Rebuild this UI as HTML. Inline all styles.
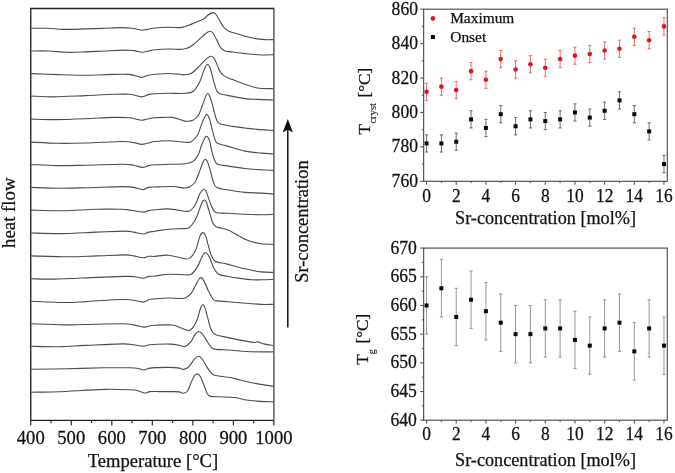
<!DOCTYPE html>
<html><head><meta charset="utf-8"><style>
html,body{margin:0;padding:0;background:#fff;}
body{width:675px;height:473px;overflow:hidden;}
svg{display:block;will-change:transform;}
text{font-family:"Liberation Serif",serif;fill:#111;stroke:#111;stroke-width:0.25px;}
</style></head><body>
<svg width="675" height="473" viewBox="0 0 675 473">
<rect width="675" height="473" fill="#fff"/>
<!-- left panel -->
<g fill="none" stroke="#4c4c4c" stroke-width="1.1" stroke-linejoin="round">
<path d="M31.35,28.30 C34.21,28.30 43.17,28.12 48.50,28.30 C53.83,28.48 57.12,29.30 63.30,29.40 C69.48,29.50 78.82,29.08 85.60,28.90 C92.38,28.72 98.15,28.52 104.00,28.30 C109.85,28.08 116.05,27.60 120.70,27.60 C125.35,27.60 128.42,27.87 131.90,28.30 C135.38,28.73 139.05,30.02 141.60,30.20 C144.15,30.38 144.97,29.77 147.20,29.40 C149.43,29.03 151.45,28.37 155.00,28.00 C158.55,27.63 164.40,27.27 168.50,27.20 C172.60,27.13 176.85,27.70 179.60,27.60 C182.35,27.50 182.33,27.47 185.00,26.60 C187.67,25.73 192.43,23.72 195.60,22.40 C198.77,21.08 201.90,19.93 204.00,18.70 C206.10,17.47 206.75,16.02 208.20,15.00 C209.65,13.98 211.47,12.77 212.70,12.60 C213.93,12.43 214.42,12.63 215.60,14.00 C216.78,15.37 218.38,18.52 219.80,20.80 C221.22,23.08 222.50,25.93 224.10,27.70 C225.70,29.47 227.12,30.35 229.40,31.40 C231.68,32.45 235.20,33.20 237.80,34.00 C240.40,34.80 242.35,35.48 245.00,36.20 C247.65,36.92 250.40,37.73 253.70,38.30 C257.00,38.87 261.53,39.38 264.80,39.60 C268.07,39.82 271.88,39.60 273.30,39.60"/><path d="M31.35,51.00 C34.21,51.00 42.56,50.78 48.50,51.00 C54.44,51.22 60.82,52.15 67.00,52.30 C73.18,52.45 79.43,52.12 85.60,51.90 C91.77,51.68 97.53,51.30 104.00,51.00 C110.47,50.70 119.45,50.17 124.40,50.10 C129.35,50.03 130.68,50.23 133.70,50.60 C136.72,50.97 140.03,52.23 142.50,52.30 C144.97,52.37 146.42,51.42 148.50,51.00 C150.58,50.58 151.67,50.13 155.00,49.80 C158.33,49.47 164.33,49.07 168.50,49.00 C172.67,48.93 177.25,49.43 180.00,49.40 C182.75,49.37 183.28,49.25 185.00,48.80 C186.72,48.35 188.18,48.02 190.30,46.70 C192.42,45.38 195.23,43.02 197.70,40.90 C200.17,38.78 203.08,35.62 205.10,34.00 C207.12,32.38 208.48,31.37 209.80,31.20 C211.12,31.03 211.85,31.57 213.00,33.00 C214.15,34.43 215.38,37.33 216.70,39.80 C218.02,42.27 219.50,45.95 220.90,47.80 C222.30,49.65 223.17,50.20 225.10,50.90 C227.03,51.60 229.18,51.55 232.50,52.00 C235.82,52.45 240.25,53.10 245.00,53.60 C249.75,54.10 256.28,54.83 261.00,55.00 C265.72,55.17 271.25,54.67 273.30,54.60"/><path d="M31.35,73.60 C35.76,73.77 48.76,74.33 57.80,74.60 C66.84,74.87 76.35,75.23 85.60,75.20 C94.85,75.17 106.22,74.53 113.30,74.40 C120.38,74.27 124.38,74.17 128.10,74.40 C131.82,74.63 133.35,75.30 135.60,75.80 C137.85,76.30 139.45,77.48 141.60,77.40 C143.75,77.32 146.27,75.82 148.50,75.30 C150.73,74.78 151.67,74.60 155.00,74.30 C158.33,74.00 164.33,73.50 168.50,73.50 C172.67,73.50 177.25,74.08 180.00,74.30 C182.75,74.52 183.12,74.98 185.00,74.80 C186.88,74.62 189.18,74.33 191.30,73.20 C193.42,72.07 195.58,70.02 197.70,68.00 C199.82,65.98 201.85,63.05 204.00,61.10 C206.15,59.15 208.93,56.75 210.60,56.30 C212.27,55.85 212.98,57.17 214.00,58.40 C215.02,59.63 215.73,61.58 216.70,63.70 C217.67,65.82 218.57,69.07 219.80,71.10 C221.03,73.13 221.98,74.48 224.10,75.90 C226.22,77.32 229.02,78.20 232.50,79.60 C235.98,81.00 240.85,82.90 245.00,84.30 C249.15,85.70 252.68,87.27 257.40,88.00 C262.12,88.73 270.65,88.58 273.30,88.70"/><path d="M31.35,96.10 C35.14,96.23 45.06,96.98 54.10,96.90 C63.14,96.82 75.73,96.03 85.60,95.60 C95.47,95.17 105.90,94.52 113.30,94.30 C120.70,94.08 125.28,93.87 130.00,94.30 C134.72,94.73 138.52,96.85 141.60,96.90 C144.68,96.95 146.27,95.13 148.50,94.60 C150.73,94.07 151.67,93.92 155.00,93.70 C158.33,93.48 163.50,93.37 168.50,93.30 C173.50,93.23 180.85,93.65 185.00,93.30 C189.15,92.95 190.93,93.13 193.40,91.20 C195.87,89.27 198.03,85.22 199.80,81.70 C201.57,78.18 202.73,73.00 204.00,70.10 C205.27,67.20 206.35,64.57 207.40,64.30 C208.45,64.03 209.28,65.78 210.30,68.50 C211.32,71.22 212.43,76.90 213.50,80.60 C214.57,84.30 215.65,88.50 216.70,90.70 C217.75,92.90 218.05,93.02 219.80,93.80 C221.55,94.58 223.00,94.60 227.20,95.40 C231.40,96.20 239.97,97.93 245.00,98.60 C250.03,99.27 252.68,99.17 257.40,99.40 C262.12,99.63 270.65,99.90 273.30,100.00"/><path d="M31.35,119.10 C35.14,119.18 45.06,119.67 54.10,119.60 C63.14,119.53 75.73,119.07 85.60,118.70 C95.47,118.33 105.90,117.55 113.30,117.40 C120.70,117.25 125.28,117.33 130.00,117.80 C134.72,118.27 138.52,120.05 141.60,120.20 C144.68,120.35 146.27,119.10 148.50,118.70 C150.73,118.30 151.05,118.02 155.00,117.80 C158.95,117.58 167.20,116.85 172.20,117.40 C177.20,117.95 181.47,120.65 185.00,121.10 C188.53,121.55 191.12,121.15 193.40,120.10 C195.68,119.05 197.20,117.27 198.70,114.80 C200.20,112.33 200.93,108.83 202.40,105.30 C203.87,101.77 205.95,94.13 207.50,93.60 C209.05,93.07 210.62,99.20 211.70,102.10 C212.78,105.00 213.22,108.13 214.00,111.00 C214.78,113.87 215.43,117.17 216.40,119.30 C217.37,121.43 217.12,122.62 219.80,123.80 C222.48,124.98 228.30,125.70 232.50,126.40 C236.70,127.10 240.85,127.50 245.00,128.00 C249.15,128.50 252.68,129.00 257.40,129.40 C262.12,129.80 270.65,130.23 273.30,130.40"/><path d="M31.35,142.10 C35.76,142.30 48.76,143.15 57.80,143.30 C66.84,143.45 74.80,143.30 85.60,143.00 C96.40,142.70 114.58,141.57 122.60,141.50 C130.62,141.43 130.53,142.12 133.70,142.60 C136.87,143.08 139.13,144.33 141.60,144.40 C144.07,144.47 146.27,143.48 148.50,143.00 C150.73,142.52 151.67,141.88 155.00,141.50 C158.33,141.12 163.50,140.58 168.50,140.70 C173.50,140.82 181.20,142.03 185.00,142.20 C188.80,142.37 189.18,142.93 191.30,141.70 C193.42,140.47 195.93,137.88 197.70,134.80 C199.47,131.72 200.48,126.57 201.90,123.20 C203.32,119.83 204.97,115.38 206.20,114.60 C207.43,113.82 208.25,115.83 209.30,118.50 C210.35,121.17 211.45,126.82 212.50,130.60 C213.55,134.38 214.55,139.00 215.60,141.20 C216.65,143.40 216.87,142.98 218.80,143.80 C220.73,144.62 222.83,144.88 227.20,146.10 C231.57,147.32 239.37,149.93 245.00,151.10 C250.63,152.27 256.28,152.62 261.00,153.10 C265.72,153.58 271.25,153.85 273.30,154.00"/><path d="M31.35,164.60 C35.76,164.77 48.76,165.50 57.80,165.60 C66.84,165.70 74.80,165.42 85.60,165.20 C96.40,164.98 114.58,164.30 122.60,164.30 C130.62,164.30 130.43,164.68 133.70,165.20 C136.97,165.72 139.73,167.33 142.20,167.40 C144.67,167.47 146.37,166.03 148.50,165.60 C150.63,165.17 151.67,165.02 155.00,164.80 C158.33,164.58 163.50,164.47 168.50,164.30 C173.50,164.13 180.85,164.33 185.00,163.80 C189.15,163.27 191.12,162.78 193.40,161.10 C195.68,159.42 197.28,156.52 198.70,153.70 C200.12,150.88 200.68,147.07 201.90,144.20 C203.12,141.33 204.77,137.20 206.00,136.50 C207.23,135.80 208.32,137.48 209.30,140.00 C210.28,142.52 211.02,148.25 211.90,151.60 C212.78,154.95 213.63,157.98 214.60,160.10 C215.57,162.22 215.60,163.33 217.70,164.30 C219.80,165.27 222.65,165.20 227.20,165.90 C231.75,166.60 239.37,167.85 245.00,168.50 C250.63,169.15 256.28,169.48 261.00,169.80 C265.72,170.12 271.25,170.30 273.30,170.40"/><path d="M31.35,187.40 C35.76,187.53 48.76,188.15 57.80,188.20 C66.84,188.25 74.80,187.97 85.60,187.70 C96.40,187.43 114.58,186.65 122.60,186.60 C130.62,186.55 130.38,186.90 133.70,187.40 C137.02,187.90 140.03,189.60 142.50,189.60 C144.97,189.60 146.42,187.83 148.50,187.40 C150.58,186.97 151.05,187.15 155.00,187.00 C158.95,186.85 167.20,186.33 172.20,186.50 C177.20,186.67 181.98,188.00 185.00,188.00 C188.02,188.00 188.53,187.63 190.30,186.50 C192.07,185.37 194.02,183.85 195.60,181.20 C197.18,178.55 198.57,173.77 199.80,170.60 C201.03,167.43 202.08,164.08 203.00,162.20 C203.92,160.32 204.52,159.30 205.30,159.30 C206.08,159.30 206.87,160.32 207.70,162.20 C208.53,164.08 209.33,167.27 210.30,170.60 C211.27,173.93 212.43,179.37 213.50,182.20 C214.57,185.03 214.42,186.33 216.70,187.60 C218.98,188.87 222.48,189.00 227.20,189.80 C231.92,190.60 239.37,191.85 245.00,192.40 C250.63,192.95 256.28,192.82 261.00,193.10 C265.72,193.38 271.25,193.93 273.30,194.10"/><path d="M31.35,210.10 C36.51,210.22 51.42,210.93 62.30,210.80 C73.17,210.67 86.77,209.55 96.60,209.30 C106.43,209.05 115.60,209.15 121.30,209.30 C127.00,209.45 127.18,209.73 130.80,210.20 C134.42,210.67 139.98,212.03 143.00,212.10 C146.02,212.17 146.90,210.98 148.90,210.60 C150.90,210.22 151.73,210.08 155.00,209.80 C158.27,209.52 163.50,208.67 168.50,208.90 C173.50,209.13 181.37,210.92 185.00,211.20 C188.63,211.48 188.53,211.75 190.30,210.60 C192.07,209.45 194.02,207.12 195.60,204.30 C197.18,201.48 198.48,196.20 199.80,193.70 C201.12,191.20 202.45,189.65 203.50,189.30 C204.55,188.95 204.97,189.28 206.10,191.60 C207.23,193.92 209.07,200.12 210.30,203.20 C211.53,206.28 212.43,208.52 213.50,210.10 C214.57,211.68 214.42,212.17 216.70,212.70 C218.98,213.23 222.48,213.03 227.20,213.30 C231.92,213.57 239.37,214.05 245.00,214.30 C250.63,214.55 256.28,214.80 261.00,214.80 C265.72,214.80 271.25,214.38 273.30,214.30"/><path d="M31.35,233.00 C36.19,233.10 49.52,233.75 60.40,233.60 C71.28,233.45 85.82,232.52 96.60,232.10 C107.38,231.68 118.92,231.10 125.10,231.10 C131.28,231.10 130.72,231.62 133.70,232.10 C136.68,232.58 140.47,234.00 143.00,234.00 C145.53,234.00 146.90,232.57 148.90,232.10 C150.90,231.63 151.73,231.68 155.00,231.20 C158.27,230.72 163.50,229.63 168.50,229.20 C173.50,228.77 181.55,228.88 185.00,228.60 C188.45,228.32 187.62,228.73 189.20,227.50 C190.78,226.27 192.92,223.83 194.50,221.20 C196.08,218.57 197.47,214.78 198.70,211.70 C199.93,208.62 201.02,204.63 201.90,202.70 C202.78,200.77 203.30,200.28 204.00,200.10 C204.70,199.92 205.22,199.67 206.10,201.60 C206.98,203.53 208.23,208.27 209.30,211.70 C210.37,215.13 211.45,219.77 212.50,222.20 C213.55,224.63 214.55,225.40 215.60,226.30 C216.65,227.20 216.87,227.02 218.80,227.60 C220.73,228.18 224.57,228.83 227.20,229.80 C229.83,230.77 231.63,231.82 234.60,233.40 C237.57,234.98 242.12,237.90 245.00,239.30 C247.88,240.70 249.23,241.07 251.90,241.80 C254.57,242.53 257.43,243.27 261.00,243.70 C264.57,244.13 271.25,244.28 273.30,244.40"/><path d="M31.35,255.90 C37.46,256.05 57.12,256.80 68.00,256.80 C78.88,256.80 87.08,256.22 96.60,255.90 C106.12,255.58 118.92,254.90 125.10,254.90 C131.28,254.90 130.72,255.42 133.70,255.90 C136.68,256.38 140.47,257.73 143.00,257.80 C145.53,257.87 146.90,256.53 148.90,256.30 C150.90,256.07 151.73,256.58 155.00,256.40 C158.27,256.22 163.50,254.80 168.50,255.20 C173.50,255.60 181.37,258.38 185.00,258.80 C188.63,259.22 188.53,259.12 190.30,257.70 C192.07,256.28 194.02,253.82 195.60,250.30 C197.18,246.78 198.62,239.55 199.80,236.60 C200.98,233.65 201.73,232.77 202.70,232.60 C203.67,232.43 204.68,233.52 205.60,235.60 C206.52,237.68 207.23,241.77 208.20,245.10 C209.17,248.43 210.17,252.88 211.40,255.60 C212.63,258.32 212.97,259.98 215.60,261.40 C218.23,262.82 222.30,262.87 227.20,264.10 C232.10,265.33 239.37,267.50 245.00,268.80 C250.63,270.10 256.28,271.30 261.00,271.90 C265.72,272.50 271.25,272.32 273.30,272.40"/><path d="M31.35,278.70 C35.24,278.77 43.83,279.32 54.70,279.10 C65.58,278.88 84.87,277.85 96.60,277.40 C108.33,276.95 118.77,276.50 125.10,276.40 C131.43,276.30 131.62,276.48 134.60,276.80 C137.58,277.12 140.62,278.37 143.00,278.30 C145.38,278.23 146.90,276.78 148.90,276.40 C150.90,276.02 151.73,276.35 155.00,276.00 C158.27,275.65 163.50,274.50 168.50,274.30 C173.50,274.10 181.20,274.80 185.00,274.80 C188.80,274.80 189.18,275.70 191.30,274.30 C193.42,272.90 195.93,269.30 197.70,266.40 C199.47,263.50 200.62,259.22 201.90,256.90 C203.18,254.58 204.17,252.50 205.40,252.50 C206.63,252.50 207.95,254.40 209.30,256.90 C210.65,259.40 211.92,264.60 213.50,267.50 C215.08,270.40 216.47,272.83 218.80,274.30 C221.13,275.77 223.97,275.62 227.50,276.30 C231.03,276.98 235.92,277.82 240.00,278.40 C244.08,278.98 248.50,279.57 252.00,279.80 C255.50,280.03 257.45,279.87 261.00,279.80 C264.55,279.73 271.25,279.47 273.30,279.40"/><path d="M31.35,301.20 C36.99,301.42 56.16,302.43 65.20,302.50 C74.24,302.57 77.58,302.07 85.60,301.60 C93.62,301.13 105.90,300.02 113.30,299.70 C120.70,299.38 125.05,299.30 130.00,299.70 C134.95,300.10 139.92,302.10 143.00,302.10 C146.08,302.10 146.50,300.23 148.50,299.70 C150.50,299.17 151.67,299.18 155.00,298.90 C158.33,298.62 164.33,298.07 168.50,298.00 C172.67,297.93 177.03,298.58 180.00,298.50 C182.97,298.42 184.37,298.47 186.30,297.50 C188.23,296.53 190.02,294.82 191.60,292.70 C193.18,290.58 194.30,287.35 195.80,284.80 C197.30,282.25 199.18,277.93 200.60,277.40 C202.02,276.87 202.98,279.32 204.30,281.60 C205.62,283.88 207.10,288.28 208.50,291.10 C209.90,293.92 211.47,296.92 212.70,298.50 C213.93,300.08 213.43,300.07 215.90,300.60 C218.37,301.13 223.48,301.35 227.50,301.70 C231.52,302.05 234.42,302.25 240.00,302.70 C245.58,303.15 255.45,304.13 261.00,304.40 C266.55,304.67 271.25,304.32 273.30,304.30"/><path d="M31.35,323.80 C36.67,323.98 54.26,324.78 63.30,324.90 C72.34,325.02 75.72,324.68 85.60,324.50 C95.48,324.32 114.58,323.73 122.60,323.80 C130.62,323.87 130.15,324.35 133.70,324.90 C137.25,325.45 141.12,326.97 143.90,327.10 C146.68,327.23 148.55,326.02 150.40,325.70 C152.25,325.38 151.37,325.32 155.00,325.20 C158.63,325.08 168.03,324.62 172.20,325.00 C176.37,325.38 177.82,326.73 180.00,327.50 C182.18,328.27 183.72,329.08 185.30,329.60 C186.88,330.12 188.10,331.13 189.50,330.60 C190.90,330.07 192.38,328.33 193.70,326.40 C195.02,324.47 196.33,321.82 197.40,319.00 C198.47,316.18 199.27,311.87 200.10,309.50 C200.93,307.13 201.62,305.15 202.40,304.80 C203.18,304.45 203.95,305.38 204.80,307.40 C205.65,309.42 206.53,313.38 207.50,316.90 C208.47,320.42 209.38,325.60 210.60,328.50 C211.82,331.40 212.87,332.98 214.80,334.30 C216.73,335.62 218.00,335.43 222.20,336.40 C226.40,337.37 234.75,339.10 240.00,340.10 C245.25,341.10 250.80,342.10 253.70,342.40 C256.60,342.70 255.55,341.62 257.40,341.90 C259.25,342.18 262.15,343.50 264.80,344.10 C267.45,344.70 271.88,345.27 273.30,345.50"/><path d="M31.35,346.30 C35.76,346.37 48.76,346.85 57.80,346.70 C66.84,346.55 74.80,345.87 85.60,345.40 C96.40,344.93 114.58,344.00 122.60,343.90 C130.62,343.80 130.30,344.40 133.70,344.80 C137.10,345.20 140.38,346.30 143.00,346.30 C145.62,346.30 146.90,345.15 149.40,344.80 C151.90,344.45 154.57,344.32 158.00,344.20 C161.43,344.08 166.47,343.93 170.00,344.10 C173.53,344.27 176.73,344.78 179.20,345.20 C181.67,345.62 182.90,347.10 184.80,346.60 C186.70,346.10 188.93,344.17 190.60,342.20 C192.27,340.23 193.48,336.58 194.80,334.80 C196.12,333.02 197.27,331.67 198.50,331.50 C199.73,331.33 200.88,332.37 202.20,333.80 C203.52,335.23 205.00,337.98 206.40,340.10 C207.80,342.22 209.20,345.00 210.60,346.50 C212.00,348.00 211.63,348.52 214.80,349.10 C217.97,349.68 224.35,349.60 229.60,350.00 C234.85,350.40 241.07,351.18 246.30,351.50 C251.53,351.82 256.50,351.85 261.00,351.90 C265.50,351.95 271.25,351.82 273.30,351.80"/><path d="M31.35,369.30 C37.29,369.20 54.89,368.95 67.00,368.70 C79.11,368.45 93.50,367.95 104.00,367.80 C114.50,367.65 124.33,367.68 130.00,367.80 C135.67,367.92 135.68,368.13 138.00,368.50 C140.32,368.87 141.90,370.07 143.90,370.00 C145.90,369.93 147.65,368.50 150.00,368.10 C152.35,367.70 154.92,367.72 158.00,367.60 C161.08,367.48 165.17,367.35 168.50,367.40 C171.83,367.45 175.43,367.57 178.00,367.90 C180.57,368.23 182.07,369.62 183.90,369.40 C185.73,369.18 187.32,368.23 189.00,366.60 C190.68,364.97 192.42,361.33 194.00,359.60 C195.58,357.87 197.12,356.30 198.50,356.20 C199.88,356.10 200.93,357.27 202.30,359.00 C203.67,360.73 205.12,364.17 206.70,366.60 C208.28,369.03 210.32,372.12 211.80,373.60 C213.28,375.08 213.57,374.98 215.60,375.50 C217.63,376.02 220.77,376.18 224.00,376.70 C227.23,377.22 230.98,377.72 235.00,378.60 C239.02,379.48 243.77,381.03 248.10,382.00 C252.43,382.97 256.80,383.68 261.00,384.40 C265.20,385.12 271.25,385.98 273.30,386.30"/><path d="M31.35,392.20 C35.76,392.12 45.69,392.17 57.80,391.70 C69.91,391.23 91.97,389.72 104.00,389.40 C116.03,389.08 124.33,389.58 130.00,389.80 C135.67,390.02 135.53,390.17 138.00,390.70 C140.47,391.23 142.80,392.85 144.80,393.00 C146.80,393.15 147.47,391.83 150.00,391.60 C152.53,391.37 156.30,391.60 160.00,391.60 C163.70,391.60 169.00,391.55 172.20,391.60 C175.40,391.65 177.25,391.63 179.20,391.90 C181.15,392.17 182.48,393.40 183.90,393.20 C185.32,393.00 186.43,392.60 187.70,390.70 C188.97,388.80 190.33,384.33 191.50,381.80 C192.67,379.27 193.68,376.82 194.70,375.50 C195.72,374.18 196.65,373.70 197.60,373.90 C198.55,374.10 199.40,374.97 200.40,376.70 C201.40,378.43 202.43,381.43 203.60,384.30 C204.77,387.17 206.25,391.88 207.40,393.90 C208.55,395.92 208.50,395.92 210.50,396.40 C212.50,396.88 215.32,396.62 219.40,396.80 C223.48,396.98 230.52,396.97 235.00,397.50 C239.48,398.03 242.57,399.40 246.30,400.00 C250.03,400.60 252.90,400.78 257.40,401.10 C261.90,401.42 270.65,401.77 273.30,401.90"/>
</g>
<path d="M273.9,8.45 L30.75,8.45 L30.75,420.4 L273.9,420.4" fill="none" stroke="#222" stroke-width="1.35"/>
<line x1="273.9" y1="7.85" x2="273.9" y2="421.0" stroke="#555" stroke-width="1.45"/>
<g stroke="#2a2a2a" stroke-width="1.2"><line x1="30.75" y1="420.40" x2="30.75" y2="425.60"/><line x1="51.01" y1="420.40" x2="51.01" y2="423.20"/><line x1="71.27" y1="420.40" x2="71.27" y2="425.60"/><line x1="91.54" y1="420.40" x2="91.54" y2="423.20"/><line x1="111.80" y1="420.40" x2="111.80" y2="425.60"/><line x1="132.06" y1="420.40" x2="132.06" y2="423.20"/><line x1="152.32" y1="420.40" x2="152.32" y2="425.60"/><line x1="172.59" y1="420.40" x2="172.59" y2="423.20"/><line x1="192.85" y1="420.40" x2="192.85" y2="425.60"/><line x1="213.11" y1="420.40" x2="213.11" y2="423.20"/><line x1="233.38" y1="420.40" x2="233.38" y2="425.60"/><line x1="253.64" y1="420.40" x2="253.64" y2="423.20"/><line x1="273.90" y1="420.40" x2="273.90" y2="425.60"/></g>
<g font-size="18.6"><text transform="translate(30.75,443.7) scale(1,1.03)" text-anchor="middle">400</text><text transform="translate(71.27,443.7) scale(1,1.03)" text-anchor="middle">500</text><text transform="translate(111.80,443.7) scale(1,1.03)" text-anchor="middle">600</text><text transform="translate(152.32,443.7) scale(1,1.03)" text-anchor="middle">700</text><text transform="translate(192.85,443.7) scale(1,1.03)" text-anchor="middle">800</text><text transform="translate(233.38,443.7) scale(1,1.03)" text-anchor="middle">900</text><text transform="translate(273.90,443.7) scale(1,1.03)" text-anchor="middle">1000</text></g>
<text x="152.9" y="467.0" text-anchor="middle" font-size="18.6">Temperature [°C]</text>
<text transform="translate(15.3,212.7) rotate(-90)" text-anchor="middle" font-size="18.8">heat flow</text>
<!-- arrow -->
<line x1="287.8" y1="327.6" x2="287.8" y2="128" stroke="#111" stroke-width="1.5"/>
<path d="M287.8,119 L292.9,132.6 L287.8,129.4 L282.7,132.6 Z" fill="#111"/>
<text transform="translate(308.2,221.6) rotate(-90)" text-anchor="middle" font-size="18.45">Sr-concentration</text>

<!-- top right plot -->
<g stroke="#e8474c" stroke-width="0.8" fill="none"><line x1="426.55" y1="83.20" x2="426.55" y2="100.41"/><line x1="424.95" y1="83.20" x2="428.15" y2="83.20"/><line x1="424.95" y1="100.41" x2="428.15" y2="100.41"/><line x1="441.39" y1="78.04" x2="441.39" y2="95.25"/><line x1="439.79" y1="78.04" x2="442.99" y2="78.04"/><line x1="439.79" y1="95.25" x2="442.99" y2="95.25"/><line x1="456.23" y1="81.48" x2="456.23" y2="98.69"/><line x1="454.63" y1="81.48" x2="457.83" y2="81.48"/><line x1="454.63" y1="98.69" x2="457.83" y2="98.69"/><line x1="471.07" y1="62.55" x2="471.07" y2="79.76"/><line x1="469.47" y1="62.55" x2="472.67" y2="62.55"/><line x1="469.47" y1="79.76" x2="472.67" y2="79.76"/><line x1="485.91" y1="71.16" x2="485.91" y2="88.37"/><line x1="484.31" y1="71.16" x2="487.51" y2="71.16"/><line x1="484.31" y1="88.37" x2="487.51" y2="88.37"/><line x1="500.75" y1="50.50" x2="500.75" y2="67.71"/><line x1="499.15" y1="50.50" x2="502.35" y2="50.50"/><line x1="499.15" y1="67.71" x2="502.35" y2="67.71"/><line x1="515.59" y1="60.83" x2="515.59" y2="78.04"/><line x1="513.99" y1="60.83" x2="517.19" y2="60.83"/><line x1="513.99" y1="78.04" x2="517.19" y2="78.04"/><line x1="530.43" y1="55.67" x2="530.43" y2="72.88"/><line x1="528.83" y1="55.67" x2="532.03" y2="55.67"/><line x1="528.83" y1="72.88" x2="532.03" y2="72.88"/><line x1="545.27" y1="59.11" x2="545.27" y2="76.32"/><line x1="543.67" y1="59.11" x2="546.87" y2="59.11"/><line x1="543.67" y1="76.32" x2="546.87" y2="76.32"/><line x1="560.11" y1="50.50" x2="560.11" y2="67.71"/><line x1="558.51" y1="50.50" x2="561.71" y2="50.50"/><line x1="558.51" y1="67.71" x2="561.71" y2="67.71"/><line x1="574.95" y1="47.06" x2="574.95" y2="64.27"/><line x1="573.35" y1="47.06" x2="576.55" y2="47.06"/><line x1="573.35" y1="64.27" x2="576.55" y2="64.27"/><line x1="589.79" y1="45.34" x2="589.79" y2="62.55"/><line x1="588.19" y1="45.34" x2="591.39" y2="45.34"/><line x1="588.19" y1="62.55" x2="591.39" y2="62.55"/><line x1="604.63" y1="41.90" x2="604.63" y2="59.11"/><line x1="603.03" y1="41.90" x2="606.23" y2="41.90"/><line x1="603.03" y1="59.11" x2="606.23" y2="59.11"/><line x1="619.47" y1="40.18" x2="619.47" y2="57.39"/><line x1="617.87" y1="40.18" x2="621.07" y2="40.18"/><line x1="617.87" y1="57.39" x2="621.07" y2="57.39"/><line x1="634.31" y1="28.13" x2="634.31" y2="45.34"/><line x1="632.71" y1="28.13" x2="635.91" y2="28.13"/><line x1="632.71" y1="45.34" x2="635.91" y2="45.34"/><line x1="649.15" y1="31.57" x2="649.15" y2="48.78"/><line x1="647.55" y1="31.57" x2="650.75" y2="31.57"/><line x1="647.55" y1="48.78" x2="650.75" y2="48.78"/><line x1="663.99" y1="17.81" x2="663.99" y2="35.01"/><line x1="662.39" y1="17.81" x2="665.59" y2="17.81"/><line x1="662.39" y1="35.01" x2="665.59" y2="35.01"/></g>
<g stroke="#4a4a4a" stroke-width="0.8" fill="none"><line x1="426.55" y1="134.83" x2="426.55" y2="152.04"/><line x1="424.95" y1="134.83" x2="428.15" y2="134.83"/><line x1="424.95" y1="152.04" x2="428.15" y2="152.04"/><line x1="441.39" y1="134.83" x2="441.39" y2="152.04"/><line x1="439.79" y1="134.83" x2="442.99" y2="134.83"/><line x1="439.79" y1="152.04" x2="442.99" y2="152.04"/><line x1="456.23" y1="133.11" x2="456.23" y2="150.32"/><line x1="454.63" y1="133.11" x2="457.83" y2="133.11"/><line x1="454.63" y1="150.32" x2="457.83" y2="150.32"/><line x1="471.07" y1="110.74" x2="471.07" y2="127.95"/><line x1="469.47" y1="110.74" x2="472.67" y2="110.74"/><line x1="469.47" y1="127.95" x2="472.67" y2="127.95"/><line x1="485.91" y1="119.34" x2="485.91" y2="136.55"/><line x1="484.31" y1="119.34" x2="487.51" y2="119.34"/><line x1="484.31" y1="136.55" x2="487.51" y2="136.55"/><line x1="500.75" y1="105.58" x2="500.75" y2="122.79"/><line x1="499.15" y1="105.58" x2="502.35" y2="105.58"/><line x1="499.15" y1="122.79" x2="502.35" y2="122.79"/><line x1="515.59" y1="117.62" x2="515.59" y2="134.83"/><line x1="513.99" y1="117.62" x2="517.19" y2="117.62"/><line x1="513.99" y1="134.83" x2="517.19" y2="134.83"/><line x1="530.43" y1="110.74" x2="530.43" y2="127.95"/><line x1="528.83" y1="110.74" x2="532.03" y2="110.74"/><line x1="528.83" y1="127.95" x2="532.03" y2="127.95"/><line x1="545.27" y1="112.46" x2="545.27" y2="129.67"/><line x1="543.67" y1="112.46" x2="546.87" y2="112.46"/><line x1="543.67" y1="129.67" x2="546.87" y2="129.67"/><line x1="560.11" y1="110.74" x2="560.11" y2="127.95"/><line x1="558.51" y1="110.74" x2="561.71" y2="110.74"/><line x1="558.51" y1="127.95" x2="561.71" y2="127.95"/><line x1="574.95" y1="103.86" x2="574.95" y2="121.06"/><line x1="573.35" y1="103.86" x2="576.55" y2="103.86"/><line x1="573.35" y1="121.06" x2="576.55" y2="121.06"/><line x1="589.79" y1="109.02" x2="589.79" y2="126.23"/><line x1="588.19" y1="109.02" x2="591.39" y2="109.02"/><line x1="588.19" y1="126.23" x2="591.39" y2="126.23"/><line x1="604.63" y1="102.13" x2="604.63" y2="119.34"/><line x1="603.03" y1="102.13" x2="606.23" y2="102.13"/><line x1="603.03" y1="119.34" x2="606.23" y2="119.34"/><line x1="619.47" y1="91.81" x2="619.47" y2="109.02"/><line x1="617.87" y1="91.81" x2="621.07" y2="91.81"/><line x1="617.87" y1="109.02" x2="621.07" y2="109.02"/><line x1="634.31" y1="105.58" x2="634.31" y2="122.79"/><line x1="632.71" y1="105.58" x2="635.91" y2="105.58"/><line x1="632.71" y1="122.79" x2="635.91" y2="122.79"/><line x1="649.15" y1="122.79" x2="649.15" y2="140.00"/><line x1="647.55" y1="122.79" x2="650.75" y2="122.79"/><line x1="647.55" y1="140.00" x2="650.75" y2="140.00"/><line x1="663.99" y1="155.49" x2="663.99" y2="172.70"/><line x1="662.39" y1="155.49" x2="665.59" y2="155.49"/><line x1="662.39" y1="172.70" x2="665.59" y2="172.70"/></g>
<g fill="#e0141e"><circle cx="426.55" cy="91.81" r="2.3"/><circle cx="441.39" cy="86.64" r="2.3"/><circle cx="456.23" cy="90.09" r="2.3"/><circle cx="471.07" cy="71.16" r="2.3"/><circle cx="485.91" cy="79.76" r="2.3"/><circle cx="500.75" cy="59.11" r="2.3"/><circle cx="515.59" cy="69.43" r="2.3"/><circle cx="530.43" cy="64.27" r="2.3"/><circle cx="545.27" cy="67.71" r="2.3"/><circle cx="560.11" cy="59.11" r="2.3"/><circle cx="574.95" cy="55.67" r="2.3"/><circle cx="589.79" cy="53.95" r="2.3"/><circle cx="604.63" cy="50.50" r="2.3"/><circle cx="619.47" cy="48.78" r="2.3"/><circle cx="634.31" cy="36.74" r="2.3"/><circle cx="649.15" cy="40.18" r="2.3"/><circle cx="663.99" cy="26.41" r="2.3"/></g>
<g fill="#0a0a0a"><rect x="424.55" y="141.44" width="4" height="4"/><rect x="439.39" y="141.44" width="4" height="4"/><rect x="454.23" y="139.72" width="4" height="4"/><rect x="469.07" y="117.34" width="4" height="4"/><rect x="483.91" y="125.95" width="4" height="4"/><rect x="498.75" y="112.18" width="4" height="4"/><rect x="513.59" y="124.23" width="4" height="4"/><rect x="528.43" y="117.34" width="4" height="4"/><rect x="543.27" y="119.06" width="4" height="4"/><rect x="558.11" y="117.34" width="4" height="4"/><rect x="572.95" y="110.46" width="4" height="4"/><rect x="587.79" y="115.62" width="4" height="4"/><rect x="602.63" y="108.74" width="4" height="4"/><rect x="617.47" y="98.41" width="4" height="4"/><rect x="632.31" y="112.18" width="4" height="4"/><rect x="647.15" y="129.39" width="4" height="4"/><rect x="661.99" y="162.09" width="4" height="4"/></g>
<rect x="423.65" y="9.2" width="243.65" height="172.10" fill="none" stroke="#4d4d4d" stroke-width="1.15"/>
<g stroke="#555" stroke-width="1.1"><line x1="426.55" y1="181.30" x2="426.55" y2="184.70"/><line x1="441.39" y1="181.30" x2="441.39" y2="183.10"/><line x1="456.23" y1="181.30" x2="456.23" y2="184.70"/><line x1="471.07" y1="181.30" x2="471.07" y2="183.10"/><line x1="485.91" y1="181.30" x2="485.91" y2="184.70"/><line x1="500.75" y1="181.30" x2="500.75" y2="183.10"/><line x1="515.59" y1="181.30" x2="515.59" y2="184.70"/><line x1="530.43" y1="181.30" x2="530.43" y2="183.10"/><line x1="545.27" y1="181.30" x2="545.27" y2="184.70"/><line x1="560.11" y1="181.30" x2="560.11" y2="183.10"/><line x1="574.95" y1="181.30" x2="574.95" y2="184.70"/><line x1="589.79" y1="181.30" x2="589.79" y2="183.10"/><line x1="604.63" y1="181.30" x2="604.63" y2="184.70"/><line x1="619.47" y1="181.30" x2="619.47" y2="183.10"/><line x1="634.31" y1="181.30" x2="634.31" y2="184.70"/><line x1="649.15" y1="181.30" x2="649.15" y2="183.10"/><line x1="663.99" y1="181.30" x2="663.99" y2="184.70"/><line x1="423.65" y1="181.30" x2="420.25" y2="181.30"/><line x1="423.65" y1="164.09" x2="421.85" y2="164.09"/><line x1="423.65" y1="146.88" x2="420.25" y2="146.88"/><line x1="423.65" y1="129.67" x2="421.85" y2="129.67"/><line x1="423.65" y1="112.46" x2="420.25" y2="112.46"/><line x1="423.65" y1="95.25" x2="421.85" y2="95.25"/><line x1="423.65" y1="78.04" x2="420.25" y2="78.04"/><line x1="423.65" y1="60.83" x2="421.85" y2="60.83"/><line x1="423.65" y1="43.62" x2="420.25" y2="43.62"/><line x1="423.65" y1="26.41" x2="421.85" y2="26.41"/><line x1="423.65" y1="9.20" x2="420.25" y2="9.20"/></g>
<g font-size="17.4"><text transform="translate(426.55,201.60) scale(1,1.08)" text-anchor="middle">0</text><text transform="translate(456.23,201.60) scale(1,1.08)" text-anchor="middle">2</text><text transform="translate(485.91,201.60) scale(1,1.08)" text-anchor="middle">4</text><text transform="translate(515.59,201.60) scale(1,1.08)" text-anchor="middle">6</text><text transform="translate(545.27,201.60) scale(1,1.08)" text-anchor="middle">8</text><text transform="translate(574.95,201.60) scale(1,1.08)" text-anchor="middle">10</text><text transform="translate(604.63,201.60) scale(1,1.08)" text-anchor="middle">12</text><text transform="translate(634.31,201.60) scale(1,1.08)" text-anchor="middle">14</text><text transform="translate(663.99,201.60) scale(1,1.08)" text-anchor="middle">16</text></g><g font-size="17.6"><text transform="translate(418.0,186.90) scale(1,1.07)" text-anchor="end">760</text><text transform="translate(418.0,152.48) scale(1,1.07)" text-anchor="end">780</text><text transform="translate(418.0,118.06) scale(1,1.07)" text-anchor="end">800</text><text transform="translate(418.0,83.64) scale(1,1.07)" text-anchor="end">820</text><text transform="translate(418.0,49.22) scale(1,1.07)" text-anchor="end">840</text><text transform="translate(418.0,14.80) scale(1,1.07)" text-anchor="end">860</text></g>
<circle cx="432.9" cy="18.4" r="2.3" fill="#e0141e"/>
<rect x="430.9" y="35.0" width="4" height="4" fill="#0a0a0a"/>
<text x="450.2" y="22.9" font-size="15.4">Maximum</text>
<text x="450.3" y="41.8" font-size="15.4">Onset</text>
<text x="545.5" y="224.0" text-anchor="middle" font-size="18.2">Sr-concentration [mol%]</text>
<g transform="translate(369.7,134.6) rotate(-90)"><text x="0" y="0" font-size="17.3">T</text><text x="11.0" y="6.4" font-size="10.6" style="stroke-width:0.1px">cryst</text><text x="37.0" y="0" font-size="17.3">[°C]</text></g>

<!-- bottom right plot -->
<g stroke="#8a8a8a" stroke-width="0.9" fill="none"><line x1="426.55" y1="276.78" x2="426.55" y2="334.15"/><line x1="424.95" y1="276.78" x2="428.15" y2="276.78"/><line x1="424.95" y1="334.15" x2="428.15" y2="334.15"/><line x1="441.39" y1="259.57" x2="441.39" y2="316.94"/><line x1="439.79" y1="259.57" x2="442.99" y2="259.57"/><line x1="439.79" y1="316.94" x2="442.99" y2="316.94"/><line x1="456.23" y1="288.26" x2="456.23" y2="345.62"/><line x1="454.63" y1="288.26" x2="457.83" y2="288.26"/><line x1="454.63" y1="345.62" x2="457.83" y2="345.62"/><line x1="471.07" y1="271.05" x2="471.07" y2="328.41"/><line x1="469.47" y1="271.05" x2="472.67" y2="271.05"/><line x1="469.47" y1="328.41" x2="472.67" y2="328.41"/><line x1="485.91" y1="282.52" x2="485.91" y2="339.89"/><line x1="484.31" y1="282.52" x2="487.51" y2="282.52"/><line x1="484.31" y1="339.89" x2="487.51" y2="339.89"/><line x1="500.75" y1="293.99" x2="500.75" y2="351.36"/><line x1="499.15" y1="293.99" x2="502.35" y2="293.99"/><line x1="499.15" y1="351.36" x2="502.35" y2="351.36"/><line x1="515.59" y1="305.47" x2="515.59" y2="362.83"/><line x1="513.99" y1="305.47" x2="517.19" y2="305.47"/><line x1="513.99" y1="362.83" x2="517.19" y2="362.83"/><line x1="530.43" y1="305.47" x2="530.43" y2="362.83"/><line x1="528.83" y1="305.47" x2="532.03" y2="305.47"/><line x1="528.83" y1="362.83" x2="532.03" y2="362.83"/><line x1="545.27" y1="299.73" x2="545.27" y2="357.10"/><line x1="543.67" y1="299.73" x2="546.87" y2="299.73"/><line x1="543.67" y1="357.10" x2="546.87" y2="357.10"/><line x1="560.11" y1="299.73" x2="560.11" y2="357.10"/><line x1="558.51" y1="299.73" x2="561.71" y2="299.73"/><line x1="558.51" y1="357.10" x2="561.71" y2="357.10"/><line x1="574.95" y1="311.20" x2="574.95" y2="368.57"/><line x1="573.35" y1="311.20" x2="576.55" y2="311.20"/><line x1="573.35" y1="368.57" x2="576.55" y2="368.57"/><line x1="589.79" y1="316.94" x2="589.79" y2="374.31"/><line x1="588.19" y1="316.94" x2="591.39" y2="316.94"/><line x1="588.19" y1="374.31" x2="591.39" y2="374.31"/><line x1="604.63" y1="299.73" x2="604.63" y2="357.10"/><line x1="603.03" y1="299.73" x2="606.23" y2="299.73"/><line x1="603.03" y1="357.10" x2="606.23" y2="357.10"/><line x1="619.47" y1="293.99" x2="619.47" y2="351.36"/><line x1="617.87" y1="293.99" x2="621.07" y2="293.99"/><line x1="617.87" y1="351.36" x2="621.07" y2="351.36"/><line x1="634.31" y1="322.68" x2="634.31" y2="380.04"/><line x1="632.71" y1="322.68" x2="635.91" y2="322.68"/><line x1="632.71" y1="380.04" x2="635.91" y2="380.04"/><line x1="649.15" y1="299.73" x2="649.15" y2="357.10"/><line x1="647.55" y1="299.73" x2="650.75" y2="299.73"/><line x1="647.55" y1="357.10" x2="650.75" y2="357.10"/><line x1="663.99" y1="316.94" x2="663.99" y2="374.31"/><line x1="662.39" y1="316.94" x2="665.59" y2="316.94"/><line x1="662.39" y1="374.31" x2="665.59" y2="374.31"/></g>
<g fill="#0a0a0a"><rect x="424.55" y="303.47" width="4" height="4"/><rect x="439.39" y="286.26" width="4" height="4"/><rect x="454.23" y="314.94" width="4" height="4"/><rect x="469.07" y="297.73" width="4" height="4"/><rect x="483.91" y="309.20" width="4" height="4"/><rect x="498.75" y="320.68" width="4" height="4"/><rect x="513.59" y="332.15" width="4" height="4"/><rect x="528.43" y="332.15" width="4" height="4"/><rect x="543.27" y="326.41" width="4" height="4"/><rect x="558.11" y="326.41" width="4" height="4"/><rect x="572.95" y="337.89" width="4" height="4"/><rect x="587.79" y="343.62" width="4" height="4"/><rect x="602.63" y="326.41" width="4" height="4"/><rect x="617.47" y="320.68" width="4" height="4"/><rect x="632.31" y="349.36" width="4" height="4"/><rect x="647.15" y="326.41" width="4" height="4"/><rect x="661.99" y="343.62" width="4" height="4"/></g>
<rect x="423.65" y="248.1" width="243.65" height="172.10" fill="none" stroke="#4d4d4d" stroke-width="1.15"/>
<g stroke="#555" stroke-width="1.1"><line x1="426.55" y1="420.20" x2="426.55" y2="423.60"/><line x1="441.39" y1="420.20" x2="441.39" y2="422.00"/><line x1="456.23" y1="420.20" x2="456.23" y2="423.60"/><line x1="471.07" y1="420.20" x2="471.07" y2="422.00"/><line x1="485.91" y1="420.20" x2="485.91" y2="423.60"/><line x1="500.75" y1="420.20" x2="500.75" y2="422.00"/><line x1="515.59" y1="420.20" x2="515.59" y2="423.60"/><line x1="530.43" y1="420.20" x2="530.43" y2="422.00"/><line x1="545.27" y1="420.20" x2="545.27" y2="423.60"/><line x1="560.11" y1="420.20" x2="560.11" y2="422.00"/><line x1="574.95" y1="420.20" x2="574.95" y2="423.60"/><line x1="589.79" y1="420.20" x2="589.79" y2="422.00"/><line x1="604.63" y1="420.20" x2="604.63" y2="423.60"/><line x1="619.47" y1="420.20" x2="619.47" y2="422.00"/><line x1="634.31" y1="420.20" x2="634.31" y2="423.60"/><line x1="649.15" y1="420.20" x2="649.15" y2="422.00"/><line x1="663.99" y1="420.20" x2="663.99" y2="423.60"/><line x1="423.65" y1="420.20" x2="420.25" y2="420.20"/><line x1="423.65" y1="405.86" x2="421.85" y2="405.86"/><line x1="423.65" y1="391.52" x2="420.25" y2="391.52"/><line x1="423.65" y1="377.18" x2="421.85" y2="377.18"/><line x1="423.65" y1="362.83" x2="420.25" y2="362.83"/><line x1="423.65" y1="348.49" x2="421.85" y2="348.49"/><line x1="423.65" y1="334.15" x2="420.25" y2="334.15"/><line x1="423.65" y1="319.81" x2="421.85" y2="319.81"/><line x1="423.65" y1="305.47" x2="420.25" y2="305.47"/><line x1="423.65" y1="291.12" x2="421.85" y2="291.12"/><line x1="423.65" y1="276.78" x2="420.25" y2="276.78"/><line x1="423.65" y1="262.44" x2="421.85" y2="262.44"/><line x1="423.65" y1="248.10" x2="420.25" y2="248.10"/></g>
<g font-size="17.4"><text transform="translate(426.55,440.40) scale(1,1.08)" text-anchor="middle">0</text><text transform="translate(456.23,440.40) scale(1,1.08)" text-anchor="middle">2</text><text transform="translate(485.91,440.40) scale(1,1.08)" text-anchor="middle">4</text><text transform="translate(515.59,440.40) scale(1,1.08)" text-anchor="middle">6</text><text transform="translate(545.27,440.40) scale(1,1.08)" text-anchor="middle">8</text><text transform="translate(574.95,440.40) scale(1,1.08)" text-anchor="middle">10</text><text transform="translate(604.63,440.40) scale(1,1.08)" text-anchor="middle">12</text><text transform="translate(634.31,440.40) scale(1,1.08)" text-anchor="middle">14</text><text transform="translate(663.99,440.40) scale(1,1.08)" text-anchor="middle">16</text></g><g font-size="17.6"><text transform="translate(416.8,425.60) scale(1,1.08)" text-anchor="end">640</text><text transform="translate(416.8,396.92) scale(1,1.08)" text-anchor="end">645</text><text transform="translate(416.8,368.23) scale(1,1.08)" text-anchor="end">650</text><text transform="translate(416.8,339.55) scale(1,1.08)" text-anchor="end">655</text><text transform="translate(416.8,310.87) scale(1,1.08)" text-anchor="end">660</text><text transform="translate(416.8,282.18) scale(1,1.08)" text-anchor="end">665</text><text transform="translate(416.8,253.50) scale(1,1.08)" text-anchor="end">670</text></g>
<text x="545.5" y="466.2" text-anchor="middle" font-size="18.2">Sr-concentration [mol%]</text>
<g transform="translate(367.8,364.75) rotate(-90)"><text x="0" y="0" font-size="17.3">T</text><text x="10.5" y="6.8" font-size="10" style="stroke-width:0.1px">g</text><text x="21.15" y="0" font-size="17.3">[°C]</text></g>
</svg>
</body></html>
